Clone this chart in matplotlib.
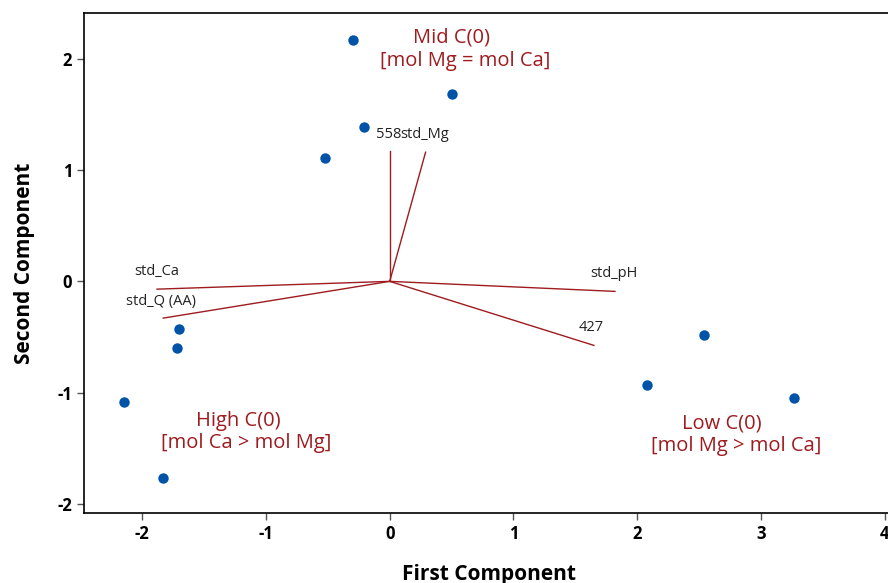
import matplotlib
matplotlib.use("Agg")
import matplotlib.pyplot as plt

plt.rcParams['font.family'] = ['Open Sans', 'DejaVu Sans']
plt.rcParams['axes.unicode_minus'] = False

# Scores (first, second component)
score_x = [-0.30, 0.50, -0.21, -0.52, -1.70, -1.72, -2.15, -1.835, 2.08, 2.54, 3.27]
score_y = [2.165, 1.68, 1.39, 1.105, -0.43, -0.60, -1.08, -1.77, -0.93, -0.485, -1.05]

# Loading vectors
var_names = ["558", "std_Mg", "std_Ca", "std_Q (AA)", "std_pH", "427"]
load_x = [0.0, 0.29, -1.88, -1.83, 1.82, 1.65]
load_y = [1.17, 1.16, -0.07, -0.33, -0.09, -0.575]
# label anchors
lab_x = [-0.11, 0.085, -2.06, -2.13, 1.62, 1.53]
lab_y = [1.32, 1.32, 0.09, -0.18, 0.07, -0.41]

group_lines = ["Mid C(0)", "[mol Mg = mol Ca]",
               "High C(0)", "[mol Ca > mol Mg]",
               "Low C(0)", "[mol Mg > mol Ca]"]
group_x = [0.50, 0.607, -1.22, -1.156, 2.684, 2.797]
group_y = [2.19, 1.976, -1.258, -1.456, -1.276, -1.474]

red = "#9E1B1F"
blue = "#0053A6"

fig = plt.figure(figsize=(8.88, 5.83), dpi=100)
ax = fig.add_axes([0.0946, 0.1201, 1.0075 - 0.0946, 0.9777 - 0.1201])

for lx, ly, name, tx, ty in zip(load_x, load_y, var_names, lab_x, lab_y):
    ax.plot([0, lx], [0, ly], color=red, lw=1.0, zorder=2)
    ax.text(tx, ty, name, fontsize=10.5, color="#222222", ha="left", va="center", zorder=4)

ax.plot(score_x, score_y, 'o', color=blue, markersize=7.5, zorder=3, markeredgewidth=0)

for g, gx, gy in zip(group_lines, group_x, group_y):
    ax.text(gx, gy, g, fontsize=14.5, color=red, ha="center", va="center")

ax.set_xlim(-2.47, 4.08)
ax.set_ylim(-2.08, 2.41)
ax.set_xticks([-2, -1, 0, 1, 2, 3, 4])
ax.set_yticks([-2, -1, 0, 1, 2])
ax.tick_params(labelsize=12, length=5, width=1, color="#555555")
for lab in ax.get_xticklabels() + ax.get_yticklabels():
    lab.set_fontweight('bold')
ax.set_xlabel("First Component", fontsize=15, fontweight='bold', labelpad=15)
ax.set_ylabel("Second Component", fontsize=15, fontweight='bold', labelpad=16)
for sp in ax.spines.values():
    sp.set_linewidth(1.2)

fig.savefig("out.png", dpi=100)
